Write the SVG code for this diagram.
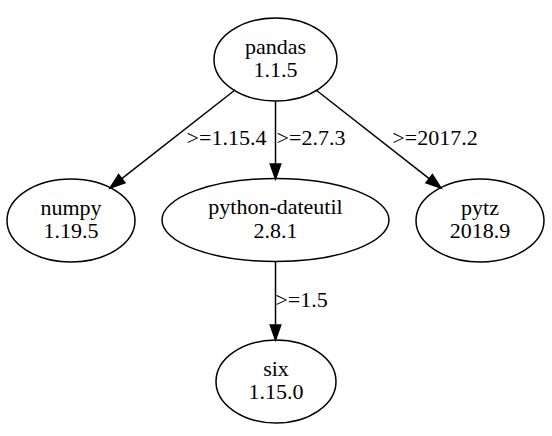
<svg xmlns="http://www.w3.org/2000/svg" width="552" height="436" viewBox="0 0 552 436">
<style>
.node ellipse{fill:none;stroke:#000;stroke-width:1.5}
text{font-family:'Liberation Serif','DejaVu Serif',serif;font-size:22px;fill:#000;text-anchor:middle}
.edge line{stroke:#000;stroke-width:1.5}
.edge polygon{fill:#000;stroke:#000;stroke-width:1.5}
</style>
<rect width="552" height="436" fill="#fff"/>
<g id="edges" class="edge" font-family="Liberation Serif, serif">
<line x1="235" y1="90" x2="121.8" y2="178.7"/>
<polygon points="125,182.9 110,188 118.6,174.6"/>
<text x="226.5" y="145">&gt;=1.15.4</text>
<line x1="275.5" y1="101" x2="275.5" y2="164"/>
<polygon points="270.25,164 275.5,179 280.75,164"/>
<text x="311" y="145">&gt;=2.7.3</text>
<line x1="316" y1="90" x2="429.2" y2="178.7"/>
<polygon points="426,182.9 441,188 432.4,174.6"/>
<text x="435" y="145">&gt;=2017.2</text>
<line x1="275.5" y1="261" x2="275.5" y2="325"/>
<polygon points="270.25,325 275.5,340 280.75,325"/>
<text x="301.5" y="307">&gt;=1.5</text>
</g>
<g id="pandas" class="node">
<ellipse cx="275.5" cy="59.5" rx="61.5" ry="41.5"/>
<text x="275.5" y="53.5">pandas</text>
<text x="275.5" y="77">1.1.5</text>
</g>
<g id="numpy" class="node">
<ellipse cx="71" cy="220.5" rx="64" ry="41.5"/>
<text x="71" y="214.5">numpy</text>
<text x="71" y="238">1.19.5</text>
</g>
<g id="python-dateutil" class="node">
<ellipse cx="275.5" cy="220" rx="113.5" ry="41.5"/>
<text x="275.5" y="214">python-dateutil</text>
<text x="275.5" y="237.5">2.8.1</text>
</g>
<g id="pytz" class="node">
<ellipse cx="480" cy="220.5" rx="64" ry="41.5"/>
<text x="480" y="214.5">pytz</text>
<text x="480" y="238">2018.9</text>
</g>
<g id="six" class="node">
<ellipse cx="276" cy="381.5" rx="60" ry="41.5"/>
<text x="276" y="375.5">six</text>
<text x="276" y="399">1.15.0</text>
</g>
</svg>
